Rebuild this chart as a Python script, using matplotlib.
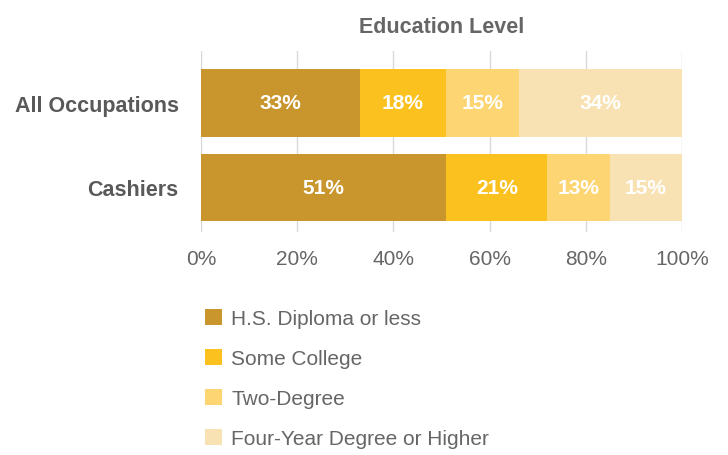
import matplotlib.pyplot as plt

plt.rcParams['font.family'] = ['Liberation Sans', 'DejaVu Sans']

# data
occupations = ['All Occupations', 'Cashiers']
levels = ['H.S. Diploma or less', 'Some College', 'Two-Degree', 'Four-Year Degree or Higher']
hs_diploma = [33, 51]
some_college = [18, 21]
two_degree = [15, 13]
four_year = [34, 15]
ticks = [0, 20, 40, 60, 80, 100]

colors = ['#C9952D', '#FBC11F', '#FDD572', '#F8E2B3']
text_gray = '#666666'

fig = plt.figure(figsize=(7.28, 4.56), dpi=100)
ax = fig.add_axes([0.276, 0.489, 0.661, 0.397])

series = [hs_diploma, some_college, two_degree, four_year]
left = [0, 0]
handles = []
for vals, col, lab in zip(series, colors, levels):
    y = list(range(len(occupations)))
    b = ax.barh(y, vals, left=left, height=0.8, color=col, label=lab, zorder=2)
    handles.append(b)
    for yi, v, l in zip(y, vals, left):
        ax.text(l + v / 2, yi, f'{v}%', ha='center', va='center', color='white',
                fontsize=15, fontweight='bold', zorder=3)
    left = [l + v for l, v in zip(left, vals)]

ax.set_xlim(0, 100)
ax.set_ylim(1.527, -0.615)
ax.set_xticks(ticks)
ax.set_xticklabels([f'{t}%' for t in ticks], fontsize=15, color=text_gray)
ax.set_yticks(range(len(occupations)))
ax.set_yticklabels(occupations, fontsize=15.5, fontweight='bold', color='#595959')
ax.tick_params(axis='x', length=0, pad=12)
ax.tick_params(axis='y', length=0, pad=16)
ax.grid(axis='x', color='#D9D9D9', linewidth=1, zorder=0)
for s in ax.spines.values():
    s.set_visible(False)

ax.set_title('Education Level', fontsize=15.5, fontweight='bold', color=text_gray, pad=14)

fig.legend(handles=handles, labels=levels, loc='upper left', bbox_to_anchor=(0.256, 0.362),
           frameon=False, fontsize=15, labelcolor=text_gray, handlelength=0.8, handleheight=0.8,
           labelspacing=1.0, handletextpad=0.45)

fig.savefig('out.png', dpi=100)
